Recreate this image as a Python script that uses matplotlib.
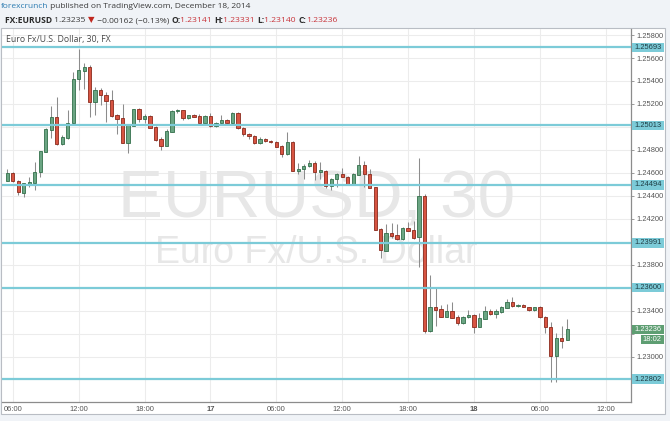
import matplotlib
matplotlib.use('Agg')
import matplotlib.pyplot as plt
from matplotlib.patches import Rectangle
import numpy as np

# ---------------- data (EUR/USD, 30-min candles from 16 Dec 05:30 to 18 Dec 08:30) ----------------
opens = [1.24532, 1.24602, 1.24532, 1.24427, 1.24506, 1.24515, 1.24610, 1.24785, 1.24973, 1.25084,
         1.24851, 1.24906, 1.25031, 1.25414, 1.25490, 1.25519, 1.25217, 1.25322, 1.25278, 1.25234,
         1.25101, 1.25075, 1.24863, 1.25008, 1.25153, 1.25066, 1.25095, 1.24996, 1.24892, 1.24834,
         1.24959, 1.25136, 1.25147, 1.25078, 1.25104, 1.25095, 1.25037, 1.25095, 1.25008, 1.25031,
         1.25060, 1.25031, 1.25124, 1.24987, 1.24938, 1.24923, 1.24856, 1.24894, 1.24880, 1.24868,
         1.24833, 1.24761, 1.24868, 1.24613, 1.24630, 1.24659, 1.24682, 1.24607, 1.24618, 1.24485,
         1.24549, 1.24586, 1.24566, 1.24496, 1.24584, 1.24668, 1.24589, 1.24473, 1.24108, 1.23922,
         1.24078, 1.24058, 1.24021, 1.24117, 1.24102, 1.24038, 1.24398, 1.23223, 1.23429, 1.23411,
         1.23347, 1.23397, 1.23342, 1.23295, 1.23342, 1.23359, 1.23260, 1.23330, 1.23394, 1.23371,
         1.23388, 1.23426, 1.23472, 1.23443, 1.23449, 1.23432, 1.23409, 1.23429, 1.23347, 1.23260,
         1.23005, 1.23165, 1.23141]
highs = [1.24631, 1.24610, 1.24535, 1.24512, 1.24567, 1.24697, 1.24793, 1.24988, 1.25182, 1.25258,
         1.24930, 1.25147, 1.25481, 1.25676, 1.25554, 1.25539, 1.25351, 1.25336, 1.25307, 1.25322,
         1.25113, 1.25200, 1.25020, 1.25156, 1.25162, 1.25113, 1.25104, 1.25008, 1.24915, 1.24979,
         1.25147, 1.25153, 1.25150, 1.25107, 1.25110, 1.25113, 1.25100, 1.25124, 1.25040, 1.25103,
         1.25066, 1.25132, 1.25132, 1.25002, 1.24949, 1.24929, 1.24909, 1.24900, 1.24883, 1.24874,
         1.24839, 1.24958, 1.24877, 1.24682, 1.24674, 1.24711, 1.24703, 1.24697, 1.24624, 1.24555,
         1.24595, 1.24639, 1.24572, 1.24595, 1.24746, 1.24705, 1.24630, 1.24479, 1.24116, 1.24154,
         1.24160, 1.24154, 1.24126, 1.24175, 1.24184, 1.24726, 1.24416, 1.23710, 1.23603, 1.23449,
         1.23455, 1.23472, 1.23362, 1.23350, 1.23406, 1.23368, 1.23382, 1.23440, 1.23417, 1.23412,
         1.23443, 1.23498, 1.23516, 1.23458, 1.23458, 1.23435, 1.23435, 1.23440, 1.23353, 1.23304,
         1.23202, 1.23269, 1.23331]
lows = [1.24526, 1.24523, 1.24407, 1.24393, 1.24480, 1.24451, 1.24567, 1.24780, 1.24901, 1.24843,
        1.24843, 1.24892, 1.25028, 1.25322, 1.25327, 1.25089, 1.25104, 1.25191, 1.25046, 1.25089,
        1.24938, 1.24857, 1.24770, 1.25005, 1.25046, 1.25037, 1.24988, 1.24880, 1.24799, 1.24830,
        1.24955, 1.25124, 1.25060, 1.25072, 1.25085, 1.25031, 1.25031, 1.25002, 1.25002, 1.25025,
        1.25025, 1.25028, 1.24978, 1.24920, 1.24891, 1.24850, 1.24850, 1.24871, 1.24862, 1.24822,
        1.24740, 1.24755, 1.24613, 1.24586, 1.24543, 1.24647, 1.24537, 1.24543, 1.24465, 1.24450,
        1.24479, 1.24560, 1.24491, 1.24491, 1.24584, 1.24479, 1.24465, 1.24102, 1.23855, 1.23922,
        1.24029, 1.24015, 1.24015, 1.24090, 1.24027, 1.23783, 1.23202, 1.23217, 1.23266, 1.23342,
        1.23342, 1.23333, 1.23275, 1.23284, 1.23333, 1.23202, 1.23255, 1.23324, 1.23365, 1.23333,
        1.23382, 1.23420, 1.23435, 1.23435, 1.23429, 1.23400, 1.23400, 1.23339, 1.23202, 1.22781,
        1.22781, 1.23072, 1.23140]
closes = [1.24602, 1.24532, 1.24433, 1.24509, 1.24523, 1.24610, 1.24790, 1.24979, 1.25084, 1.24851,
          1.24909, 1.25031, 1.25414, 1.25496, 1.25519, 1.25220, 1.25322, 1.25278, 1.25229, 1.25095,
          1.25072, 1.24863, 1.25017, 1.25153, 1.25066, 1.25095, 1.24994, 1.24886, 1.24834, 1.24967,
          1.25142, 1.25147, 1.25075, 1.25104, 1.25090, 1.25037, 1.25095, 1.25008, 1.25037, 1.25060,
          1.25031, 1.25124, 1.24987, 1.24935, 1.24920, 1.24856, 1.24891, 1.24877, 1.24865, 1.24827,
          1.24761, 1.24868, 1.24616, 1.24633, 1.24659, 1.24682, 1.24607, 1.24624, 1.24485, 1.24549,
          1.24586, 1.24566, 1.24496, 1.24586, 1.24668, 1.24586, 1.24470, 1.24102, 1.23928, 1.24078,
          1.24049, 1.24020, 1.24117, 1.24096, 1.24033, 1.24398, 1.23223, 1.23429, 1.23406, 1.23347,
          1.23397, 1.23339, 1.23295, 1.23342, 1.23359, 1.23260, 1.23333, 1.23394, 1.23371, 1.23394,
          1.23429, 1.23472, 1.23443, 1.23449, 1.23432, 1.23409, 1.23429, 1.23347, 1.23260, 1.23005,
          1.23165, 1.23139, 1.23236]

xtick_pos = [1, 13, 25, 37, 49, 61, 73, 85, 97, 109]
xtick_labels = ['06:00', '12:00', '18:00', '17', '06:00', '12:00', '18:00', '18', '06:00', '12:00']
xtick_bold = ['17', '18']
ytick_values = [1.228, 1.230, 1.232, 1.234, 1.236, 1.238, 1.240, 1.242, 1.244, 1.246,
                1.248, 1.250, 1.252, 1.254, 1.256, 1.258]
level_values = [1.25693, 1.25013, 1.24494, 1.23991, 1.23600, 1.22802]
level_labels = ['1.25693', '1.25013', '1.24494', '1.23991', '1.23600', '1.22802']
last_price = 1.23236
last_label = '1.23236'
countdown = '18:02'

header1 = [('forexcrunch', '#2a7ab0', 'normal'),
           (' published on TradingView.com, December 18, 2014', '#3a3a3a', 'normal')]
header2 = [('FX:EURUSD ', '#2b2b2b', 'bold'), ('1.23235 ', '#3a3a3a', 'normal'),
           ('\u25BC', '#c0281f', 'normal'), (' \u22120.00162 (\u22120.13%) ', '#3a3a3a', 'normal'),
           ('O:', '#2b2b2b', 'bold'), ('1.23141 ', '#c8343a', 'normal'),
           ('H:', '#2b2b2b', 'bold'), ('1.23331 ', '#c8343a', 'normal'),
           ('L:', '#2b2b2b', 'bold'), ('1.23140 ', '#c8343a', 'normal'),
           ('C:', '#2b2b2b', 'bold'), ('1.23236', '#c8343a', 'normal')]
title_text = 'Euro Fx/U.S. Dollar, 30, FX'
watermark1 = 'EURUSD, 30'
watermark2 = 'Euro Fx/U.S. Dollar'

# ---------------- styling ----------------
W, H = 670, 421
BG = '#f0f3f7'
UP_FC, UP_EC = '#6ba583', '#33704b'
DN_FC, DN_EC = '#d75442', '#8a2a1c'
WICK = '#8c8c8c'
LEVEL = '#7ccbd8'
AXIS = '#8c8c8c'
TXT = '#555555'
AX_FONT = ['Liberation Sans', 'DejaVu Sans']
HD_FONT = ['Open Sans', 'DejaVu Sans']

fig = plt.figure(figsize=(W / 100, H / 100), dpi=100)
fig.patch.set_facecolor(BG)
renderer = fig.canvas.get_renderer()


def fx(px):
    return px / W


def fy(py):
    return 1 - py / H


# white chart panel
fig.add_artist(Rectangle((fx(1), fy(414)), 664 / W, 386 / H, transform=fig.transFigure,
                         fc='white', ec='#b9bdc4', lw=0.8, zorder=0))

ax = fig.add_axes([fx(2), fy(402), 629 / W, 373.5 / H])
ax.set_facecolor('none')
ax.set_xlim(-0.965, 113.6)
ax.set_ylim(1.22604, 1.25857)

for s in ['left', 'top']:
    ax.spines[s].set_visible(False)
for s in ['bottom', 'right']:
    ax.spines[s].set_color(AXIS)
    ax.spines[s].set_linewidth(0.9)

ax.set_xticks(xtick_pos)
ax.set_xticklabels(xtick_labels)
for lab in ax.get_xticklabels():
    lab.set_family(AX_FONT)
    if lab.get_text() in xtick_bold:
        lab.set_fontweight('bold')
ax.tick_params(axis='x', length=0, labelsize=5.4, labelcolor=TXT, pad=3)

ax.yaxis.tick_right()
ax.set_yticks(ytick_values)
ax.tick_params(axis='y', direction='out', length=2.5, width=0.6, color=AXIS,
               labelsize=5.4, labelcolor=TXT, pad=1.2)


def ypix(price):
    return H - ax.transData.transform((0, price))[1]


label_pix = [ypix(v) for v in level_values] + [ypix(last_price)]
ylabels = []
for v in ytick_values:
    if min(abs(ypix(v) - p) for p in label_pix) < 7:
        ylabels.append('')
    else:
        ylabels.append('%.5f' % v)
ax.set_yticklabels(ylabels)
for lab in ax.get_yticklabels():
    lab.set_family(AX_FONT)

ax.grid(True, color='#ececec', lw=0.75)
ax.set_axisbelow(True)

# watermark
ax.text(0.5, 0.4953, watermark1, transform=ax.transAxes, ha='center', va='baseline',
        fontsize=48.5, color='#e7e7e7', family=AX_FONT, zorder=1)
ax.text(0.5, 0.3713, watermark2, transform=ax.transAxes, ha='center', va='baseline',
        fontsize=27, color='#e7e7e7', family=AX_FONT, zorder=1)

# candles
x = np.arange(len(opens))
o = np.array(opens)
c = np.array(closes)
hi = np.array(highs)
lo = np.array(lows)
up = c >= o
ax.vlines(x, lo, hi, colors=WICK, lw=0.75, zorder=3)
bottom = np.minimum(o, c)
height = np.maximum(np.abs(c - o), 0.00004)
ax.bar(x[up], height[up], bottom=bottom[up], width=0.6, color=UP_FC, edgecolor=UP_EC,
       lw=0.6, zorder=4)
ax.bar(x[~up], height[~up], bottom=bottom[~up], width=0.6, color=DN_FC, edgecolor=DN_EC,
       lw=0.6, zorder=4)

# horizontal levels
for v in level_values:
    ax.axhline(v, color=LEVEL, lw=1.6, zorder=5)

# right-axis labels
for v, s in zip(level_values, level_labels):
    yp = ypix(v)
    fig.add_artist(Rectangle((fx(631.5), fy(yp + 4.8)), 32 / W, 9.6 / H,
                             transform=fig.transFigure, fc=LEVEL, ec='none', zorder=10))
    fig.text(fx(634.5), fy(yp), s, fontsize=5.4, color='#1f3d44', family=AX_FONT,
             ha='left', va='center', zorder=11)

yp = ypix(last_price)
fig.add_artist(Rectangle((fx(631.5), fy(yp + 4.8)), 32 / W, 9.6 / H,
                         transform=fig.transFigure, fc='#5e9e72', ec='none', zorder=10))
fig.text(fx(634.5), fy(yp), last_label, fontsize=5.4, color='white', family=AX_FONT,
         ha='left', va='center', zorder=11)
fig.add_artist(Rectangle((fx(641), fy(yp + 14.8)), 22.5 / W, 9.6 / H,
                         transform=fig.transFigure, fc='#5e9e72', ec='none', zorder=10))
fig.text(fx(652.2), fy(yp + 10), countdown, fontsize=5.4, color='white', family=AX_FONT,
         ha='center', va='center', zorder=11)

# chart title inside
fig.text(fx(6), fy(39.5), title_text, fontsize=6.3, color='#4a4a4a', family=HD_FONT,
         ha='left', va='center')


def seq_text(x0, ypx, parts, size):
    xp = x0
    for s, col, wt in parts:
        t = fig.text(fx(xp), fy(ypx), s, fontsize=size, color=col, fontweight=wt,
                     family=HD_FONT, ha='left', va='center')
        bb = t.get_window_extent(renderer)
        xp += bb.width


seq_text(1, 7, header1, 6.0)
seq_text(5, 20.5, header2, 6.1)

fig.savefig('out.png', dpi=100, facecolor=BG)
